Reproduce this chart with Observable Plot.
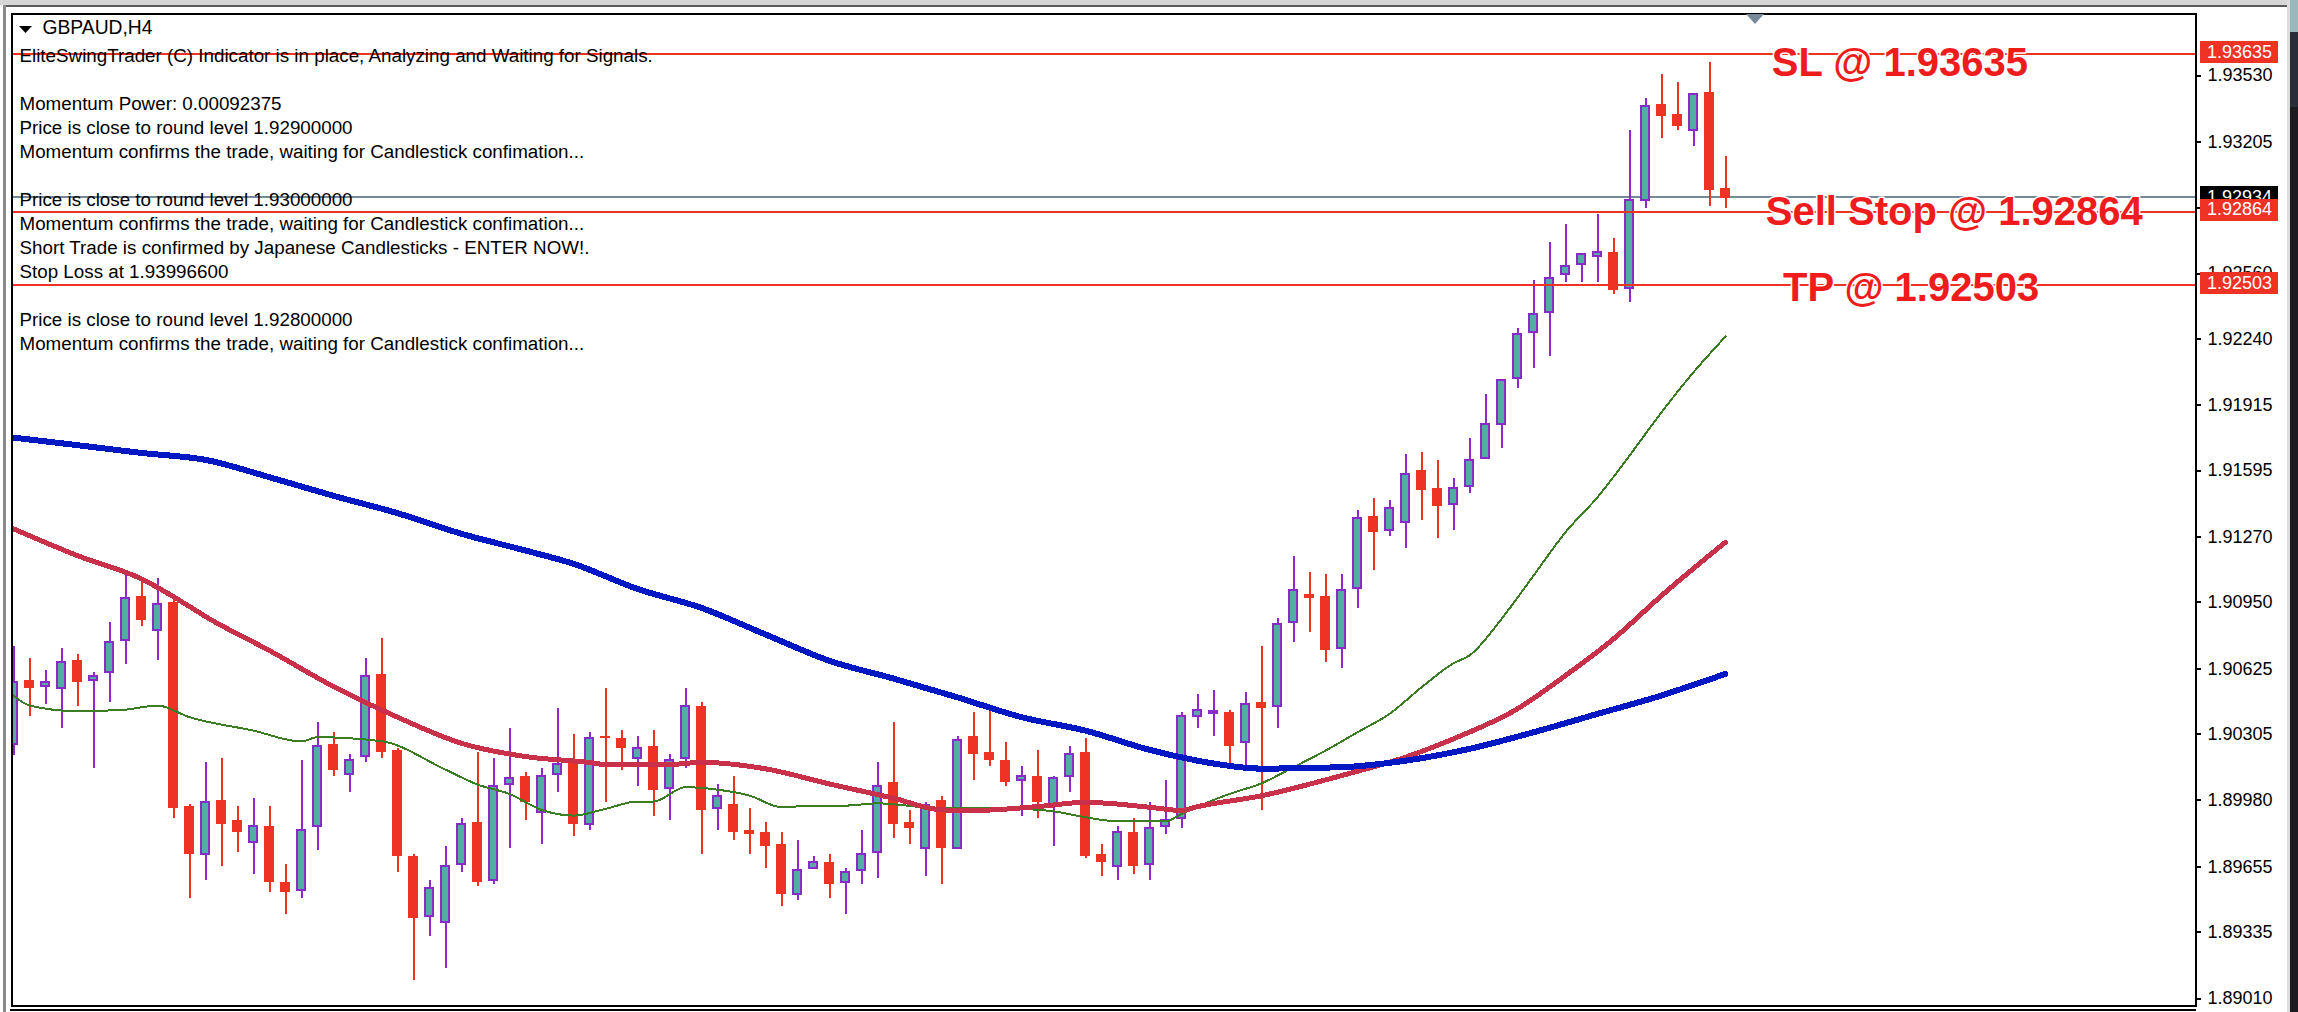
<!DOCTYPE html>
<html><head><meta charset="utf-8">
<script src="https://cdn.jsdelivr.net/npm/d3@7"></script>
<script src="https://cdn.jsdelivr.net/npm/@observablehq/plot@0.6"></script>
<style>
html,body{margin:0;padding:0;background:#fff;width:2298px;height:1012px;overflow:hidden;position:relative}
svg{display:block}
.c{position:absolute}
</style></head><body>
<div id="chart"></div>
<div class="c" style="left:0;top:0;width:2287px;height:5px;background:#d6d6d6"></div>
<div class="c" style="left:5px;top:5px;width:2282px;height:2px;background:#5a5a5a"></div>
<div class="c" style="left:3px;top:5px;width:3px;height:1007px;background:#8a8a8a"></div>
<div class="c" style="left:2287px;top:0;width:3px;height:1012px;background:#dcdcdc"></div>
<div class="c" style="left:2290px;top:0;width:8px;height:1012px;background:#1b1b20"></div>
<div class="c" style="left:2290px;top:0;width:8px;height:32px;background:#9ab9bd"></div>
<div class="c" style="left:2290px;top:32px;width:8px;height:75px;background:#2a2c38"></div>
<div class="c" style="left:10px;top:1009px;width:2186px;height:2px;background:#000"></div>
<div class="c" style="left:19px;top:26px;width:13px;height:7px;background:#000;clip-path:polygon(0 0,100% 0,50% 100%)"></div>
<div class="c" style="left:1746px;top:14px;width:18px;height:10px;background:#778899;clip-path:polygon(0 0,100% 0,50% 100%)"></div>
<script>
const title = "GBPAUD,H4";
const info = [
  "EliteSwingTrader (C) Indicator is in place, Analyzing and Waiting for Signals.",
  "",
  "Momentum Power: 0.00092375",
  "Price is close to round level 1.92900000",
  "Momentum confirms the trade, waiting for Candlestick confimation...",
  "",
  "Price is close to round level 1.93000000",
  "Momentum confirms the trade, waiting for Candlestick confimation...",
  "Short Trade is confirmed by Japanese Candlesticks - ENTER NOW!.",
  "Stop Loss at 1.93996600",
  "",
  "Price is close to round level 1.92800000",
  "Momentum confirms the trade, waiting for Candlestick confimation..."
];
const open = [1.90247,1.90567,1.90531,1.90522,1.90665,1.90561,1.90600,1.90757,1.90979,1.90806,
1.90949,1.89950,1.89709,1.89980,1.89882,1.89767,1.89852,1.89578,1.89532,1.89846,
1.90254,1.90100,1.90189,1.90597,1.90225,1.89705,1.89405,1.89376,1.89660,1.89872,
1.89581,1.90051,1.90097,1.89914,1.90100,1.90166,1.89856,1.90293,1.90283,1.90179,
1.90244,1.90032,1.90179,1.90440,1.89934,1.89960,1.89833,1.89823,1.89764,1.89513,
1.89640,1.89676,1.89572,1.89630,1.89718,1.90068,1.89872,1.89738,1.89980,1.89738,
1.90293,1.90215,1.90176,1.90071,1.90097,1.89950,1.90091,1.90215,1.89715,1.89650,
1.89823,1.89660,1.89846,1.89885,1.90385,1.90401,1.90411,1.90257,1.90460,1.90433,
1.90845,1.90988,1.90979,1.90718,1.91011,1.91370,1.91295,1.91335,1.91596,1.91508,
1.91423,1.91511,1.91648,1.91814,1.92040,1.92265,1.92363,1.92549,1.92598,1.92637,
1.92663,1.92480,1.92911,1.93388,1.93339,1.93254,1.93447,1.92977];
const high = [1.90734,1.90675,1.90616,1.90724,1.90695,1.90606,1.90851,1.91090,1.91057,1.91067,
1.90969,1.89960,1.90166,1.90185,1.89950,1.89989,1.89950,1.89666,1.90176,1.90362,
1.90313,1.90205,1.90675,1.90773,1.90234,1.89715,1.89588,1.89754,1.89891,1.90215,
1.90185,1.90332,1.90117,1.90136,1.90430,1.90303,1.90313,1.90528,1.90322,1.90293,
1.90322,1.90205,1.90528,1.90460,1.90058,1.90097,1.89940,1.89872,1.89823,1.89784,
1.89705,1.89715,1.89647,1.89833,1.90166,1.90362,1.89931,1.89970,1.89999,1.90293,
1.90411,1.90420,1.90264,1.90146,1.90225,1.90097,1.90244,1.90283,1.89764,1.89852,
1.89891,1.89970,1.90078,1.90411,1.90499,1.90518,1.90420,1.90509,1.90734,1.90871,
1.91175,1.91096,1.91086,1.91086,1.91400,1.91459,1.91449,1.91674,1.91684,1.91645,
1.91557,1.91752,1.91968,1.92043,1.92291,1.92526,1.92712,1.92800,1.92660,1.92849,
1.92732,1.93261,1.93417,1.93535,1.93496,1.93444,1.93594,1.93133];
const low = [1.90198,1.90391,1.90450,1.90332,1.90440,1.90136,1.90460,1.90646,1.90832,1.90665,
1.89891,1.89500,1.89588,1.89656,1.89725,1.89617,1.89529,1.89421,1.89500,1.89735,
1.90097,1.90019,1.90166,1.90185,1.89627,1.89098,1.89314,1.89157,1.89627,1.89558,
1.89568,1.89745,1.89882,1.89764,1.90019,1.89803,1.89833,1.89970,1.90127,1.90048,
1.89901,1.89882,1.90136,1.89715,1.89833,1.89784,1.89715,1.89647,1.89461,1.89490,
1.89640,1.89500,1.89421,1.89568,1.89598,1.89794,1.89764,1.89607,1.89568,1.89738,
1.90078,1.90146,1.90048,1.89901,1.89891,1.89754,1.90019,1.89696,1.89607,1.89588,
1.89617,1.89588,1.89813,1.89843,1.90332,1.90293,1.90159,1.90143,1.89931,1.90332,
1.90753,1.90802,1.90655,1.90626,1.90920,1.91106,1.91272,1.91214,1.91351,1.91263,
1.91302,1.91481,1.91648,1.91703,1.91997,1.92095,1.92154,1.92516,1.92516,1.92516,
1.92458,1.92418,1.92879,1.93222,1.93261,1.93182,1.92889,1.92879];
const close = [1.90564,1.90528,1.90564,1.90662,1.90558,1.90593,1.90760,1.90975,1.90861,1.90946,
1.89940,1.89715,1.89976,1.89862,1.89823,1.89859,1.89578,1.89529,1.89839,1.90251,
1.90127,1.90182,1.90593,1.90215,1.89705,1.89402,1.89555,1.89663,1.89869,1.89578,
1.90055,1.90094,1.89970,1.90104,1.90162,1.89862,1.90290,1.90283,1.90234,1.90241,
1.90029,1.90182,1.90447,1.89931,1.90006,1.89823,1.89813,1.89754,1.89519,1.89643,
1.89683,1.89568,1.89634,1.89722,1.90055,1.89862,1.89843,1.89960,1.89745,1.90280,
1.90205,1.90176,1.90068,1.90104,1.89970,1.90094,1.90211,1.89705,1.89676,1.89829,
1.89656,1.89849,1.89888,1.90398,1.90427,1.90420,1.90244,1.90456,1.90430,1.90848,
1.91015,1.90969,1.90714,1.91015,1.91367,1.91292,1.91416,1.91583,1.91498,1.91419,
1.91514,1.91651,1.91828,1.92043,1.92268,1.92366,1.92543,1.92601,1.92660,1.92670,
1.92477,1.92925,1.93385,1.93329,1.93280,1.93444,1.92967,1.92928];

const blueIdx = [0,4,8,12,16,20,24,28,32,35,39,43,47,51,55,59,63,67,71,74,75,78,83,87,91,95,99,103,107];
const blueVal = [1.91757,1.91720,1.91682,1.91648,1.91563,1.91472,1.91387,1.91286,1.91204,1.91139,1.91016,1.90923,1.90793,1.90664,1.90577,1.90485,1.90388,1.90322,1.90228,1.90175,1.90161,1.90136,1.90143,1.90175,1.90233,1.90314,1.90404,1.90494,1.90600];
const redIdx = [0,4,8,11,12,16,20,24,28,32,36,37,41,43,47,51,55,58,60,64,67,71,73,74,78,83,87,90,94,97,100,103,107];
const redVal = [1.91310,1.91179,1.91065,1.90930,1.90881,1.90714,1.90538,1.90388,1.90260,1.90195,1.90166,1.90156,1.90156,1.90167,1.90135,1.90061,1.89991,1.89934,1.89931,1.89950,1.89971,1.89947,1.89931,1.89950,1.90003,1.90102,1.90192,1.90282,1.90429,1.90592,1.90771,1.90983,1.91245];
const greenIdx = [0,1,4,7,9,11,15,18,19,23,27,29,31,33,35,37,39,40,42,44,46,48,50,52,54,57,59,61,63,65,67,69,72,73,74,76,78,80,82,84,86,88,90,91,93,95,97,99,101,103,105,107];
const greenVal = [1.90494,1.90445,1.90417,1.90425,1.90445,1.90388,1.90322,1.90269,1.90290,1.90270,1.90131,1.90058,1.90012,1.89934,1.89906,1.89939,1.89975,1.89975,1.90045,1.90033,1.90004,1.89947,1.89955,1.89955,1.89966,1.89947,1.89944,1.89945,1.89939,1.89927,1.89898,1.89878,1.89878,1.89914,1.89950,1.90012,1.90064,1.90143,1.90224,1.90314,1.90404,1.90534,1.90652,1.90690,1.90869,1.91081,1.91294,1.91465,1.91669,1.91881,1.92077,1.92252];

const yTicks = [1.93530,1.93205,1.92880,1.92560,1.92240,1.91915,1.91595,1.91270,1.90950,1.90625,1.90305,1.89980,1.89655,1.89335,1.89010];
const levels = [1.93635,1.92864,1.92503];
const levelNames = ["SL @ 1.93635","Sell Stop @ 1.92864","TP @ 1.92503"];
const levelCenters = [117.9,121.3,118.6];
const levelDy = [9,1,3];
const bid = 1.92934;

const RED="#ee3224", PURPLE="#8a2bc8", TEAL="#55aca6", LABEL="#ee1c1c";
const candles = open.map((o,i)=>({i,open:o,high:high[i],low:low[i],close:close[i]}));
const up = candles.filter(d=>d.close>=d.open), down = candles.filter(d=>d.close<d.open);
const crisp = {shapeRendering:"crispEdges", clip:"frame"};
const maStyle = {curve:"monotone-x", ...crisp};
const boxL = 136.69, boxR = 141.56;
const fmt = d3.format(".5f");

const bigLabel = (k) => Plot.text([levelNames[k]],{x:[levelCenters[k]], y:[levels[k]], dy:levelDy[k], fontSize:40, fontWeight:"bold", fill:LABEL, stroke:"#fff", strokeWidth:3, paintOrder:"stroke"});

const chart = Plot.plot({
  width:2298, height:1012,
  marginLeft:11, marginRight:103, marginTop:13, marginBottom:7,
  style:{background:"#fff", fontFamily:"'Liberation Sans',sans-serif", color:"#000"},
  x:{type:"linear", domain:[-0.125,136.375], axis:null},
  y:{type:"linear", domain:[1.88976,1.93834], axis:null},
  marks:[
    Plot.axisY(yTicks,{anchor:"right", tickSize:5, tickPadding:7, tickFormat:fmt, fontSize:18, label:null, strokeWidth:2, shapeRendering:"crispEdges"}),
    Plot.ruleY([bid],{stroke:"#778899", strokeWidth:2, shapeRendering:"crispEdges"}),
    Plot.ruleX(down,{x:"i", y1:"low", y2:"high", stroke:RED, strokeWidth:2, ...crisp}),
    Plot.rect(down,{x1:d=>d.i-5/16, x2:d=>d.i+5/16, y1:"open", y2:"close", fill:RED, ...crisp}),
    Plot.ruleX(up,{x:"i", y1:"low", y2:"high", stroke:PURPLE, strokeWidth:2, ...crisp}),
    Plot.rect(up,{x1:d=>d.i-5/16, x2:d=>d.i+5/16, y1:"open", y2:"close", inset:1, fill:TEAL, stroke:PURPLE, strokeWidth:2, ...crisp}),
    Plot.line(greenVal,{x:greenIdx, y:d=>d, stroke:"#3a7d22", strokeWidth:2, ...maStyle}),
    Plot.line(redVal,{x:redIdx, y:d=>d, stroke:"#c9304a", strokeWidth:5, ...maStyle}),
    Plot.line(blueVal,{x:blueIdx, y:d=>d, stroke:"#0018c4", strokeWidth:6, ...maStyle}),
    Plot.ruleY(levels,{stroke:RED, strokeWidth:2, shapeRendering:"crispEdges"}),
    Plot.text([title],{frameAnchor:"top-left", dx:31, dy:7, fontSize:19.3, textAnchor:"start", lineAnchor:"top", fill:"#000"}),
    Plot.text([info.join("\n")],{frameAnchor:"top-left", dx:8, dy:31, fontSize:18.8, lineHeight:24/18.8, textAnchor:"start", lineAnchor:"top", fill:"#000"}),
    bigLabel(0), bigLabel(1), bigLabel(2),
    Plot.ruleY([bid],{x1:boxL, x2:boxR, stroke:"#000", strokeWidth:22, shapeRendering:"crispEdges"}),
    Plot.text([bid],{x:(boxL+boxR)/2, y:d=>d, text:fmt, fill:"#fff", fontSize:18}),
    Plot.ruleY(levels,{x1:boxL, x2:boxR, dy:-2, stroke:RED, strokeWidth:22, shapeRendering:"crispEdges"}),
    Plot.text(levels,{x:(boxL+boxR)/2, y:d=>d, dy:-2, text:fmt, fill:"#fff", fontSize:18}),
    Plot.frame({stroke:"#000", strokeWidth:2, shapeRendering:"crispEdges"})
  ]
});
document.getElementById("chart").appendChild(chart);
</script>
</body></html>
